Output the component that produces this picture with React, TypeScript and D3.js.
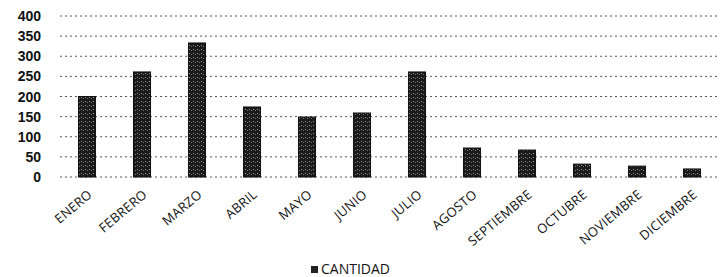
import React from 'react';
import * as d3 from 'd3';

const months = ['ENERO', 'FEBRERO', 'MARZO', 'ABRIL', 'MAYO', 'JUNIO', 'JULIO', 'AGOSTO', 'SEPTIEMBRE', 'OCTUBRE', 'NOVIEMBRE', 'DICIEMBRE'];
const cantidad = [200, 261, 333, 174, 149, 159, 261, 72, 67, 32, 27, 20];
const yTicks = [0, 50, 100, 150, 200, 250, 300, 350, 400];
const seriesName = 'CANTIDAD';

const App = () => {
  const width = 720;
  const height = 277;

  const x = d3.scaleBand<string>()
    .domain(months)
    .range([59.5, 719.5])
    .paddingInner(0.69)
    .paddingOuter(0.345);

  const y = d3.scaleLinear()
    .domain([0, 400])
    .range([177, 16]);

  return (
    <svg width={width} height={height} style={{ position: 'absolute', left: 0, top: 0, background: '#fff' }}>
      <defs>
        <pattern id="grain" width="4" height="4" patternUnits="userSpaceOnUse">
          <rect width="4" height="4" fill="#1a1a1a" />
          <rect x="1" y="1" width="1" height="1" fill="#9a9a9a" />
          <rect x="3" y="2" width="1" height="1" fill="#777" />
        </pattern>
      </defs>

      {/* rejilla */}
      {yTicks.map(t => (
        <line key={t} x1={60} x2={719} y1={y(t)} y2={y(t)}
          stroke="#444" strokeWidth={0.9} strokeDasharray="2,3" />
      ))}

      {/* eje Y */}
      {yTicks.map(t => (
        <text key={t} x={41} y={y(t)} dy="0.36em" textAnchor="end"
          fontFamily="Liberation Sans, Arial, sans-serif" fontWeight="bold" fontSize={14} fill="#111">
          {t}
        </text>
      ))}

      {/* barras */}
      {months.map((m, i) => (
        <rect key={m} x={x(m)} y={y(cantidad[i])} width={x.bandwidth()}
          height={y(0) - y(cantidad[i])} fill="url(#grain)" stroke="#111" strokeWidth={1} />
      ))}

      {/* etiquetas X */}
      {months.map(m => {
        const cx = (x(m) as number) + x.bandwidth() / 2 + 6;
        return (
          <text key={m} transform={`translate(${cx},${196}) rotate(-40)`} textAnchor="end"
            fontFamily="Open Sans, sans-serif" fontSize={13} letterSpacing={0.3} fill="#111">
            {m}
          </text>
        );
      })}

      {/* leyenda */}
      <rect x={311} y={266} width={7} height={7} fill="#222" />
      <text x={321} y={274} fontFamily="Open Sans, sans-serif" fontSize={14} fill="#111">{seriesName}</text>
    </svg>
  );
};

export default App;
